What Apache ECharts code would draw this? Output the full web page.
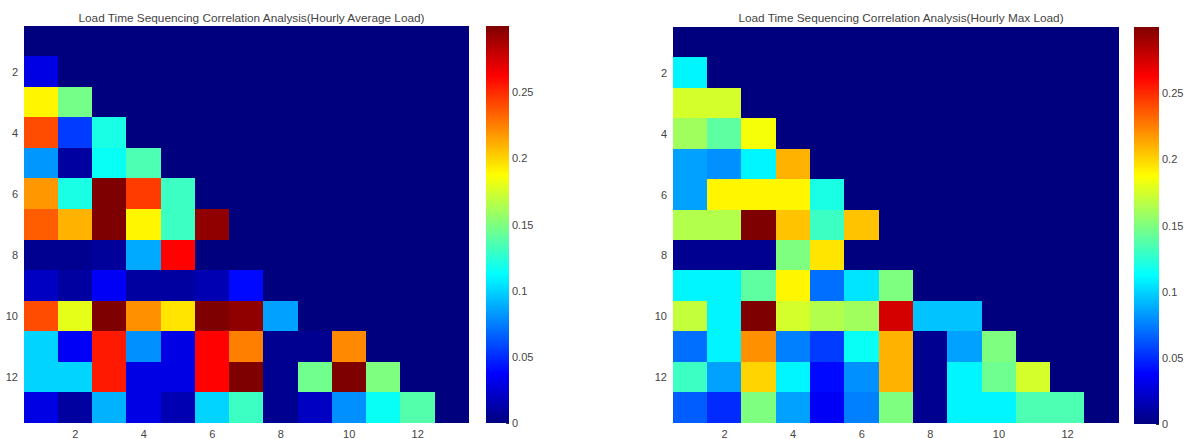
<!DOCTYPE html>
<html>
<head>
<meta charset="utf-8">
<script src="https://cdn.jsdelivr.net/npm/echarts@6/dist/echarts.min.js"></script>
<style>
  html, body { margin: 0; padding: 0; background: #fff; }
  #chart { width: 1190px; height: 439px; }
  /* keep neighbouring heatmap cells flush, without anti-aliased seams */
  #chart svg path { shape-rendering: crispEdges; }
</style>
</head>
<body>
<div id="chart"></div>
<script>
// Hour indices shared by both correlation matrices
const hours = ['1','2','3','4','5','6','7','8','9','10','11','12','13'];

// Lower-triangular correlation values, one row per hour (missing entries are 0)
const avgLoadRows = [
  [],
  [0.03],
  [0.19, 0.147],
  [0.24, 0.055, 0.12],
  [0.082, 0.01, 0.115, 0.135],
  [0.218, 0.12, 0.3, 0.245, 0.13],
  [0.235, 0.21, 0.3, 0.19, 0.13, 0.295],
  [0.005, 0.005, 0.008, 0.088, 0.262, 0, 0],
  [0.02, 0.01, 0.035, 0.01, 0.01, 0.015, 0.04, 0],
  [0.24, 0.18, 0.3, 0.22, 0.195, 0.3, 0.295, 0.085, 0],
  [0.1, 0.035, 0.255, 0.08, 0.03, 0.262, 0.225, 0.005, 0.005, 0.222],
  [0.1, 0.1, 0.255, 0.03, 0.03, 0.262, 0.3, 0.005, 0.146, 0.3, 0.15],
  [0.03, 0.01, 0.09, 0.03, 0.015, 0.1, 0.13, 0.005, 0.02, 0.08, 0.115, 0.137]
];

const maxLoadRows = [
  [],
  [0.11],
  [0.175, 0.175],
  [0.16, 0.14, 0.185],
  [0.085, 0.08, 0.11, 0.21],
  [0.085, 0.19, 0.19, 0.19, 0.12],
  [0.165, 0.165, 0.3, 0.205, 0.13, 0.205],
  [0.005, 0.005, 0.005, 0.15, 0.195, 0, 0],
  [0.11, 0.11, 0.14, 0.19, 0.07, 0.105, 0.15, 0],
  [0.17, 0.11, 0.3, 0.175, 0.165, 0.16, 0.275, 0.095, 0.095],
  [0.07, 0.11, 0.22, 0.075, 0.055, 0.115, 0.21, 0.005, 0.085, 0.15],
  [0.13, 0.085, 0.2, 0.11, 0.04, 0.08, 0.21, 0.005, 0.11, 0.145, 0.175],
  [0.065, 0.05, 0.15, 0.085, 0.035, 0.075, 0.15, 0.005, 0.11, 0.11, 0.135, 0.135]
];

const colorbarMax = 0.3;
const colorbarInterval = 0.05;

// Jet colormap stops at 0, 1/8, ..., 1
const jet = ['#00007f', '#0000ff', '#007fff', '#00ffff', '#7fff7f',
             '#ffff00', '#ff7f00', '#ff0000', '#7f0000'];

function toCells(rows) {
  const cells = [];
  for (let r = 0; r < hours.length; r++) {
    for (let c = 0; c < hours.length; c++) {
      const v = rows[r][c] !== undefined ? rows[r][c] : 0;
      cells.push([c, r, v]);
    }
  }
  return cells;
}

const font = 'Liberation Sans, Arial, sans-serif';
const textColor = '#444444';

const panels = [
  { title: 'Load Time Sequencing Correlation Analysis(Hourly Average Load)',
    rows: avgLoadRows, left: 24, top: 26, width: 445, height: 397,
    barLeft: 486, barWidth: 23 },
  { title: 'Load Time Sequencing Correlation Analysis(Hourly Max Load)',
    rows: maxLoadRows, left: 673, top: 27, width: 446, height: 397,
    barLeft: 1134, barWidth: 25 }
];

const grid = [], xAxis = [], yAxis = [], series = [], title = [];

panels.forEach((p, i) => {
  title.push({
    text: p.title,
    left: p.left + p.width / 2,
    textAlign: 'center',
    top: 7,
    textStyle: { fontSize: 11.8, fontWeight: 'normal', color: textColor, fontFamily: font }
  });

  // heatmap grid
  grid.push({ left: p.left, top: p.top, width: p.width, height: p.height });
  const evenOnly = (idx) => idx % 2 === 1;
  xAxis.push({
    type: 'category', data: hours, gridIndex: 2 * i,
    axisLine: { show: false },
    axisTick: { show: true, inside: true, length: 4, alignWithLabel: true,
                interval: evenOnly, lineStyle: { color: '#333' } },
    axisLabel: { interval: evenOnly, fontSize: 11, color: textColor, fontFamily: font, margin: 5 },
    splitLine: { show: false }
  });
  yAxis.push({
    type: 'category', data: hours, gridIndex: 2 * i, inverse: true,
    axisLine: { show: false },
    axisTick: { show: true, inside: true, length: 4, alignWithLabel: true,
                interval: evenOnly, lineStyle: { color: '#333' } },
    axisLabel: { interval: evenOnly, fontSize: 11, color: textColor, fontFamily: font, margin: 6 },
    splitLine: { show: false }
  });
  series.push({
    type: 'heatmap', xAxisIndex: 2 * i, yAxisIndex: 2 * i,
    data: toCells(p.rows), silent: true,
    itemStyle: { borderWidth: 0 },
    emphasis: { disabled: true }
  });

  // colour bar grid
  grid.push({ left: p.barLeft, top: p.top, width: p.barWidth, height: p.height });
  xAxis.push({
    type: 'category', data: ['bar'], gridIndex: 2 * i + 1, show: false
  });
  yAxis.push({
    type: 'value', gridIndex: 2 * i + 1, min: 0, max: colorbarMax,
    interval: colorbarInterval, position: 'right',
    axisLine: { show: false },
    axisTick: { show: true, inside: true, length: 3, lineStyle: { color: '#333' } },
    axisLabel: {
      fontSize: 11, color: textColor, fontFamily: font, margin: 3,
      formatter: (v) => (v >= colorbarMax - 1e-9 ? '' : String(+v.toFixed(2)))
    },
    splitLine: { show: false }
  });
  series.push({
    type: 'bar', xAxisIndex: 2 * i + 1, yAxisIndex: 2 * i + 1,
    data: [colorbarMax], barWidth: '100%', silent: true,
    itemStyle: {
      color: {
        type: 'linear', x: 0, y: 1, x2: 0, y2: 0,
        colorStops: jet.map((c, k) => ({ offset: k / (jet.length - 1), color: c }))
      }
    }
  });
});

const chart = echarts.init(document.getElementById('chart'), null, { renderer: 'svg' });
chart.setOption({
  animation: false,
  backgroundColor: '#ffffff',
  title: title,
  grid: grid,
  xAxis: xAxis,
  yAxis: yAxis,
  visualMap: {
    type: 'continuous', show: false, seriesIndex: [0, 2],
    min: 0, max: colorbarMax, inRange: { color: jet }
  },
  series: series
});
</script>
</body>
</html>
